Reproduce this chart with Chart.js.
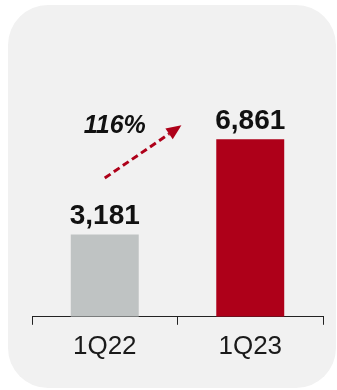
<!DOCTYPE html>
<html>
<head>
<meta charset="utf-8">
<script src="https://cdn.jsdelivr.net/npm/chart.js@4/dist/chart.umd.min.js"></script>
<style>
  html, body { margin: 0; padding: 0; background: #ffffff; }
  canvas { display: block; }
</style>
</head>
<body>
<canvas id="chart" width="337" height="390"></canvas>
<script>
// Quarterly figures
const categories = ['1Q22', '1Q23'];
const values = [3181, 6861];
const barColors = ['#bfc3c3', '#ae0019'];
const FONT = '"Liberation Sans", Arial, sans-serif';

// Rounded panel behind the chart
const panelPlugin = {
  id: 'panel',
  beforeDraw(chart) {
    const ctx = chart.ctx;
    ctx.save();
    ctx.fillStyle = '#f1f1f1';
    ctx.beginPath();
    ctx.roundRect(8, 5, 328, 383, 40);
    ctx.fill();
    ctx.restore();
  }
};

// Value labels above bars, plus the growth arrow
const labelPlugin = {
  id: 'labels',
  afterDatasetsDraw(chart) {
    const ctx = chart.ctx;
    const meta = chart.getDatasetMeta(0);
    const xs = chart.scales.x, ys = chart.scales.y;
    ctx.save();
    ctx.fillStyle = '#111111';
    ctx.font = 'bold 28px ' + FONT;
    ctx.textAlign = 'center';
    ctx.textBaseline = 'alphabetic';
    meta.data.forEach((bar, i) => {
      ctx.fillText(values[i].toLocaleString('en-US'), bar.x, bar.y - 10);
    });

    // growth arrow from the first bar towards the second
    const x0 = xs.getPixelForValue(0);
    const x1 = xs.getPixelForValue(0.527);
    const y0 = ys.getPixelForValue(5360);
    const y1 = ys.getPixelForValue(7400);
    const ang = Math.atan2(y1 - y0, x1 - x0);
    const headLen = 15, headHalf = 6.5;
    const bx = x1 - headLen * Math.cos(ang), by = y1 - headLen * Math.sin(ang);
    ctx.strokeStyle = '#ae0019';
    ctx.lineWidth = 3;
    ctx.setLineDash([7, 4]);
    ctx.beginPath();
    ctx.moveTo(x0, y0);
    ctx.lineTo(bx, by);
    ctx.stroke();
    ctx.setLineDash([]);
    ctx.fillStyle = '#ae0019';
    ctx.beginPath();
    ctx.moveTo(x1, y1);
    ctx.lineTo(bx + headHalf * Math.sin(ang), by - headHalf * Math.cos(ang));
    ctx.lineTo(bx - headHalf * Math.sin(ang), by + headHalf * Math.cos(ang));
    ctx.closePath();
    ctx.fill();

    // growth percentage
    const growth = Math.round((values[1] / values[0] - 1) * 100);
    ctx.fillStyle = '#111111';
    ctx.font = 'italic bold 25px ' + FONT;
    ctx.textAlign = 'center';
    ctx.fillText(growth + '%', x0 + 10, y1 + 8);
    ctx.restore();
  }
};

new Chart(document.getElementById('chart'), {
  type: 'bar',
  data: {
    labels: categories,
    datasets: [{
      data: values,
      backgroundColor: barColors,
      borderWidth: 0,
      categoryPercentage: 1,
      barPercentage: 0.467
    }]
  },
  options: {
    responsive: false,
    animation: false,
    devicePixelRatio: 1,
    layout: { padding: { left: 32, right: 14, top: 58, bottom: 22 } },
    plugins: { legend: { display: false }, tooltip: { enabled: false } },
    scales: {
      x: {
        grid: {
          display: true,
          drawOnChartArea: false,
          drawTicks: true,
          tickLength: 8,
          color: '#222222',
          lineWidth: 1,
          offset: true
        },
        border: { display: true, color: '#222222', width: 1 },
        ticks: {
          color: '#1a1a1a',
          padding: 6,
          font: { family: FONT, size: 26 }
        }
      },
      y: {
        display: false,
        min: 0,
        max: 10000
      }
    }
  },
  plugins: [panelPlugin, labelPlugin]
});
</script>
</body>
</html>
